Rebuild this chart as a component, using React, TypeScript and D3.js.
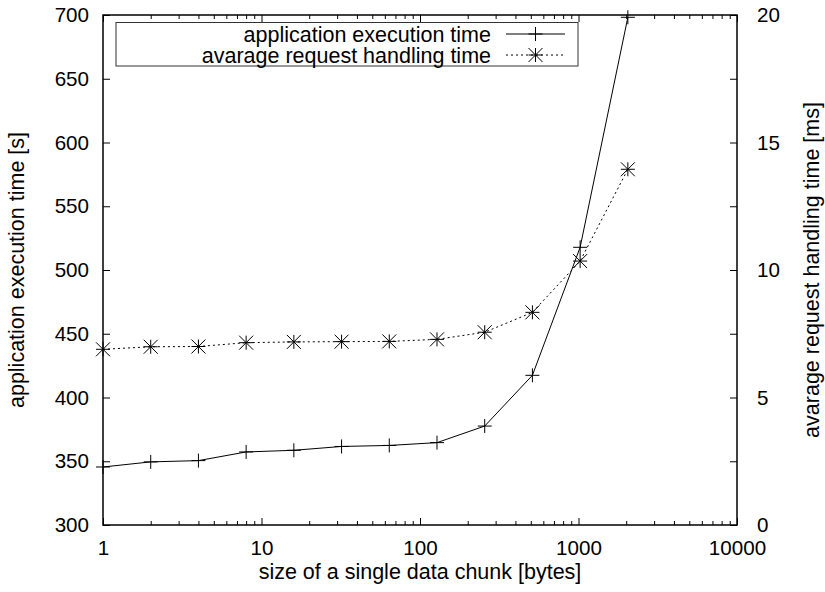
import React, { useEffect, useRef } from 'react';
import * as d3 from 'd3';

// chunk sizes in bytes
const sizes = [1, 2, 4, 8, 16, 32, 64, 128, 256, 512, 1024, 2048];
// application execution time [s] (left axis)
const execTime = [345.5, 349.5, 350.5, 357.3, 358.6, 361.6, 362.4, 364.6, 377.6, 417.4, 517.8, 698.2];
// avarage request handling time [ms] (right axis)
const reqTime = [6.89, 6.99, 7.0, 7.15, 7.18, 7.19, 7.2, 7.28, 7.56, 8.34, 10.35, 13.95];

const xMajor = [1, 10, 100, 1000, 10000];
const yTicks = [300, 350, 400, 450, 500, 550, 600, 650, 700];
const y2Labels = [0, 5, 10, 15, 20];
const y2Minor = [2.5, 7.5, 12.5, 17.5];

const labels = {
  x: 'size of a single data chunk [bytes]',
  y: 'application execution time [s]',
  y2: 'avarage request handling time [ms]',
  s1: 'application execution time',
  s2: 'avarage request handling time',
};

const FONT = '"Liberation Sans", Arial, Helvetica, sans-serif';
const TICK_FS = 20.6;
const LABEL_FS = 21.5;

export default function App() {
  const ref = useRef<SVGSVGElement>(null);

  useEffect(() => {
    document.body.style.margin = '0';
    const width = 825;
    const height = 592;
    const margin = { top: 15, right: 88, bottom: 67, left: 103 };

    const svg = d3.select(ref.current);
    svg.selectAll('*').remove();
    svg.attr('width', width).attr('height', height);

    const x = d3.scaleLog().domain([1, 10000]).range([margin.left, width - margin.right]);
    const y = d3.scaleLinear().domain([300, 700]).range([height - margin.bottom, margin.top]);
    const y2 = d3.scaleLinear().domain([0, 20]).range([height - margin.bottom, margin.top]);

    const bottom = height - margin.bottom;
    const right = width - margin.right;

    const minor: number[] = [];
    for (let e = 0; e < 4; e++) for (let m = 2; m <= 9; m++) minor.push(m * Math.pow(10, e));

    const style = (g: any) =>
      g.call((g: any) => g.select('.domain').remove())
        .call((g: any) => g.selectAll('line').attr('stroke', '#000').attr('stroke-width', 1))
        .call((g: any) => g.selectAll('text').attr('font-family', FONT).attr('font-size', TICK_FS).attr('fill', '#000'));

    // x axis bottom: major + minor
    svg.append('g').attr('transform', `translate(0,${bottom})`)
      .call(d3.axisBottom(x).tickValues(xMajor).tickFormat(d3.format('d')).tickSize(-7).tickPadding(15))
      .call(style);
    svg.append('g').attr('transform', `translate(0,${bottom})`)
      .call(d3.axisBottom(x).tickValues(minor).tickFormat(() => '').tickSize(-4))
      .call(style);
    // x axis top mirror
    svg.append('g').attr('transform', `translate(0,${margin.top})`)
      .call(d3.axisTop(x).tickValues(xMajor).tickFormat(() => '').tickSize(-7))
      .call(style);
    svg.append('g').attr('transform', `translate(0,${margin.top})`)
      .call(d3.axisTop(x).tickValues(minor).tickFormat(() => '').tickSize(-4))
      .call(style);

    // left y axis
    svg.append('g').attr('transform', `translate(${margin.left},0)`)
      .call(d3.axisLeft(y).tickValues(yTicks).tickSize(-7).tickPadding(14))
      .call(style);

    // right y2 axis
    svg.append('g').attr('transform', `translate(${right},0)`)
      .call(d3.axisRight(y2).tickValues(y2Labels).tickSize(-7).tickPadding(20))
      .call(style);
    svg.append('g').attr('transform', `translate(${right},0)`)
      .call(d3.axisRight(y2).tickValues(y2Minor).tickFormat(() => '').tickSize(-7))
      .call(style);

    // border
    svg.append('rect')
      .attr('x', margin.left).attr('y', margin.top)
      .attr('width', right - margin.left).attr('height', bottom - margin.top)
      .attr('fill', 'none').attr('stroke', '#000').attr('stroke-width', 1.5);

    // axis titles
    svg.append('text')
      .attr('x', (margin.left + right) / 2).attr('y', 579)
      .attr('text-anchor', 'middle')
      .attr('font-family', FONT).attr('font-size', LABEL_FS)
      .text(labels.x);
    svg.append('text')
      .attr('transform', `translate(23.5,${(margin.top + bottom) / 2}) rotate(-90)`)
      .attr('text-anchor', 'middle')
      .attr('font-family', FONT).attr('font-size', LABEL_FS)
      .text(labels.y);
    svg.append('text')
      .attr('transform', `translate(819,${(margin.top + bottom) / 2}) rotate(-90)`)
      .attr('text-anchor', 'middle')
      .attr('font-family', FONT).attr('font-size', LABEL_FS)
      .text(labels.y2);

    const plus = (g: any, cx: number, cy: number) => {
      g.append('path')
        .attr('d', `M${cx - 7},${cy}H${cx + 7}M${cx},${cy - 7}V${cy + 7}`)
        .attr('stroke', '#000').attr('stroke-width', 1).attr('fill', 'none');
    };
    const star = (g: any, cx: number, cy: number) => {
      const r = 7;
      g.append('path')
        .attr('d', `M${cx - r},${cy}H${cx + r}M${cx},${cy - r}V${cy + r}` +
          `M${cx - r},${cy - r}L${cx + r},${cy + r}M${cx - r},${cy + r}L${cx + r},${cy - r}`)
        .attr('stroke', '#000').attr('stroke-width', 1).attr('fill', 'none');
    };

    const plot = svg.append('g');

    const line1 = d3.line<number>()
      .x((d, i) => x(sizes[i]))
      .y(d => y(d));
    const line2 = d3.line<number>()
      .x((d, i) => x(sizes[i]))
      .y(d => y2(d));

    plot.append('path').datum(execTime)
      .attr('d', line1).attr('fill', 'none').attr('stroke', '#000').attr('stroke-width', 1);
    plot.append('path').datum(reqTime)
      .attr('d', line2).attr('fill', 'none').attr('stroke', '#000').attr('stroke-width', 1)
      .attr('stroke-dasharray', '2,3');

    execTime.forEach((v, i) => plus(plot, x(sizes[i]), y(v)));
    reqTime.forEach((v, i) => star(plot, x(sizes[i]), y2(v)));

    // legend
    const leg = svg.append('g');
    leg.append('rect')
      .attr('x', 116).attr('y', 22.5).attr('width', 462).attr('height', 43.5)
      .attr('fill', 'white').attr('stroke', '#333').attr('stroke-width', 1);
    const rows = [
      { label: labels.s1, cy: 34, dash: null as string | null, mark: plus },
      { label: labels.s2, cy: 55, dash: '2,3', mark: star },
    ];
    rows.forEach(r => {
      leg.append('text')
        .attr('x', 491).attr('y', r.cy).attr('dy', '0.35em')
        .attr('text-anchor', 'end')
        .attr('font-family', FONT).attr('font-size', LABEL_FS)
        .text(r.label);
      leg.append('line')
        .attr('x1', 506).attr('x2', 565).attr('y1', r.cy).attr('y2', r.cy)
        .attr('stroke', '#000').attr('stroke-width', 1)
        .attr('stroke-dasharray', r.dash);
      r.mark(leg, 535.5, r.cy);
    });
  }, []);

  return <svg ref={ref} style={{ display: 'block' }}></svg>;
}
